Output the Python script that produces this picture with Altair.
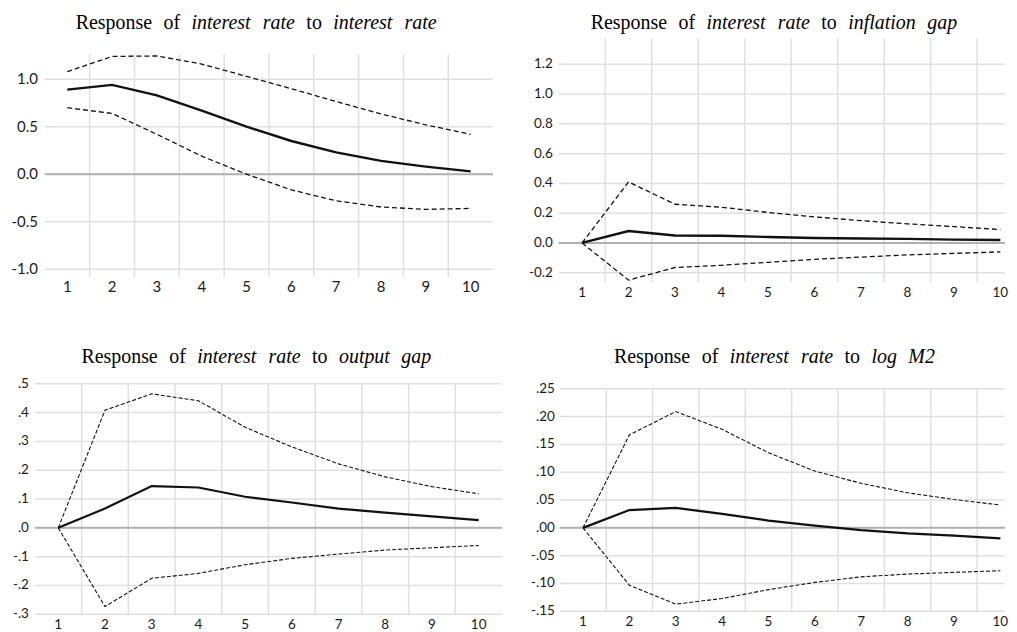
import altair as alt
import pandas as pd

steps = [1, 2, 3, 4, 5, 6, 7, 8, 9, 10]

# Response of interest rate to interest rate
ir_ir_mid = [0.89, 0.94, 0.83, 0.67, 0.50, 0.35, 0.23, 0.14, 0.08, 0.03]
ir_ir_up = [1.08, 1.24, 1.245, 1.16, 1.03, 0.90, 0.765, 0.635, 0.52, 0.42]
ir_ir_lo = [0.70, 0.64, 0.42, 0.19, 0.0, -0.165, -0.28, -0.345, -0.37, -0.36]

# Response of interest rate to inflation gap
ir_inf_mid = [0.0, 0.08, 0.05, 0.048, 0.04, 0.033, 0.03, 0.027, 0.022, 0.02]
ir_inf_up = [0.0, 0.41, 0.26, 0.24, 0.205, 0.175, 0.15, 0.128, 0.11, 0.09]
ir_inf_lo = [0.0, -0.25, -0.165, -0.15, -0.13, -0.11, -0.095, -0.08, -0.07, -0.06]

# Response of interest rate to output gap
ir_out_mid = [0.0, 0.067, 0.145, 0.14, 0.108, 0.088, 0.067, 0.053, 0.04, 0.027]
ir_out_up = [0.0, 0.408, 0.465, 0.441, 0.349, 0.281, 0.222, 0.177, 0.143, 0.118]
ir_out_lo = [0.0, -0.273, -0.175, -0.158, -0.128, -0.106, -0.091, -0.077, -0.069, -0.061]

# Response of interest rate to log M2
ir_m2_mid = [0.0, 0.032, 0.036, 0.025, 0.013, 0.004, -0.004, -0.010, -0.014, -0.019]
ir_m2_up = [0.0, 0.167, 0.209, 0.177, 0.135, 0.102, 0.080, 0.063, 0.051, 0.041]
ir_m2_lo = [0.0, -0.103, -0.137, -0.127, -0.111, -0.098, -0.088, -0.083, -0.080, -0.077]

title_ir_ir = [("Response", False), ("of", False), ("interest", True), ("rate", True),
               ("to", False), ("interest", True), ("rate", True)]
title_ir_inf = [("Response", False), ("of", False), ("interest", True), ("rate", True),
                ("to", False), ("inflation", True), ("gap", True)]
title_ir_out = [("Response", False), ("of", False), ("interest", True), ("rate", True),
                ("to", False), ("output", True), ("gap", True)]
title_ir_m2 = [("Response", False), ("of", False), ("interest", True), ("rate", True),
               ("to", False), ("log", True), ("M2", True)]

ticks_ir_ir = [-1.0, -0.5, 0.0, 0.5, 1.0]
labels_ir_ir = ["-1.0", "-0.5", "0.0", "0.5", "1.0"]
ticks_ir_inf = [-0.2, 0.0, 0.2, 0.4, 0.6, 0.8, 1.0, 1.2]
labels_ir_inf = ["-0.2", "0.0", "0.2", "0.4", "0.6", "0.8", "1.0", "1.2"]
ticks_ir_out = [-0.3, -0.2, -0.1, 0.0, 0.1, 0.2, 0.3, 0.4, 0.5]
labels_ir_out = ["-.3", "-.2", "-.1", ".0", ".1", ".2", ".3", ".4", ".5"]
ticks_ir_m2 = [-0.15, -0.10, -0.05, 0.0, 0.05, 0.10, 0.15, 0.20, 0.25]
labels_ir_m2 = ["-.15", "-.10", "-.05", ".00", ".05", ".10", ".15", ".20", ".25"]

# ---- styling / layout ----
REG = {'R': 0.667, 'e': 0.444, 's': 0.389, 'p': 0.5, 'o': 0.5, 'n': 0.5, 'f': 0.333, 't': 0.278}
ITA = {'i': 0.278, 'n': 0.5, 't': 0.278, 'e': 0.444, 'r': 0.389, 's': 0.389, 'a': 0.5,
       'f': 0.278, 'l': 0.278, 'o': 0.5, 'g': 0.5, 'p': 0.5, 'u': 0.5, 'M': 0.833, '2': 0.5}
TFS = 20
GAP = 11.5
LABEL_FONT = "Lato"
LABEL_COLOR = "#1a1a1a"
GRID = "#e0e0e0"
INK = "#111111"


def title_layers(words, x0, baseline):
    layers = []
    x = x0
    for w, it in words:
        table = ITA if it else REG
        width = sum(table.get(c, 0.5) for c in w) * TFS
        layers.append(
            alt.Chart(pd.DataFrame({"t": [w]}))
            .mark_text(font="Liberation Serif", fontSize=TFS,
                       fontStyle="italic" if it else "normal",
                       align="left", baseline="alphabetic", color="black")
            .encode(text="t:N", x=alt.value(x), y=alt.value(baseline))
        )
        x += width + GAP
    return layers


def panel(mid, up, lo, ticks, labels, words, rect, xmax, ydom, title_pos,
          lsize, xlab_dy, ylab_dx, ext, dash, mw, bw):
    x0, x1, y0, y1 = rect
    xs = alt.Scale(domain=[0.5, xmax], range=[x0, x1], nice=False, zero=False)
    ys = alt.Scale(domain=ydom, range=[y1, y0], nice=False, zero=False)

    df_mid = pd.DataFrame({"step": steps, "value": mid})
    df_band = pd.DataFrame({"step": steps + steps, "value": up + lo,
                            "band": ["upper"] * len(steps) + ["lower"] * len(steps)})
    df_v = pd.DataFrame({"step": [s + 0.5 for s in steps if s + 0.5 < xmax]})
    df_h = pd.DataFrame({"value": ticks, "label": labels})
    df_x = pd.DataFrame({"step": steps, "label": [str(s) for s in steps]})

    ybottom_ext = ydom[0] - ext * (ydom[1] - ydom[0]) / (y1 - y0)

    hgrid = alt.Chart(df_h).mark_rule(color=GRID, strokeWidth=1.5).encode(
        y=alt.Y("value:Q", scale=ys, axis=None),
        x=alt.X(datum=0.5, scale=xs, axis=None),
        x2=alt.X2(datum=xmax))
    vgrid = alt.Chart(df_v).mark_rule(color=GRID, strokeWidth=1.5).encode(
        x=alt.X("step:Q", scale=xs, axis=None),
        y=alt.Y(datum=ydom[1], scale=ys, axis=None),
        y2=alt.Y2(datum=ybottom_ext))
    zero = alt.Chart(pd.DataFrame({"value": [0.0]})).mark_rule(
        color="#b0b0b0", strokeWidth=2).encode(
        y=alt.Y("value:Q", scale=ys, axis=None),
        x=alt.X(datum=0.5, scale=xs, axis=None),
        x2=alt.X2(datum=xmax))
    band = alt.Chart(df_band).mark_line(color=INK, strokeWidth=bw, strokeDash=dash).encode(
        x=alt.X("step:Q", scale=xs, axis=None),
        y=alt.Y("value:Q", scale=ys, axis=None),
        detail="band:N")
    midl = alt.Chart(df_mid).mark_line(color=INK, strokeWidth=mw).encode(
        x=alt.X("step:Q", scale=xs, axis=None),
        y=alt.Y("value:Q", scale=ys, axis=None))
    ylab = alt.Chart(df_h).mark_text(
        font=LABEL_FONT, fontSize=lsize, color=LABEL_COLOR, align="right",
        baseline="middle", dx=-ylab_dx).encode(
        text="label:N",
        y=alt.Y("value:Q", scale=ys, axis=None),
        x=alt.X(datum=0.5, scale=xs, axis=None))
    xlab = alt.Chart(df_x).mark_text(
        font=LABEL_FONT, fontSize=lsize, color=LABEL_COLOR, align="center",
        baseline="middle", dy=xlab_dy).encode(
        text="label:N",
        x=alt.X("step:Q", scale=xs, axis=None),
        y=alt.Y(datum=ydom[0], scale=ys, axis=None))
    return [hgrid, vgrid, zero, band, midl, ylab, xlab] + title_layers(words, *title_pos)


layers = []
layers += panel(ir_ir_mid, ir_ir_up, ir_ir_lo, ticks_ir_ir, labels_ir_ir, title_ir_ir,
                (37, 487, 45, 261), 10.5, [-1.0, 1.265], (68, 20.3),
                15, 18, 7, 8, [5, 3], 2.4, 1.3)
layers += panel(ir_inf_mid, ir_inf_up, ir_inf_lo, ticks_ir_inf, labels_ir_inf, title_ir_inf,
                (553, 1001, 29, 272), 10.1, [-0.25, 1.376], (585, 20.3),
                13.5, 12.7, 6, 2, [5, 3], 2.4, 1.3)
layers += panel(ir_out_mid, ir_out_up, ir_out_lo, ticks_ir_out, labels_ir_out, title_ir_out,
                (27, 496, 376, 607.5), 10.5, [-0.3, 0.5], (73.7, 354.7),
                13.5, 10.5, 6, 1, [4, 2], 2.2, 1.1)
layers += panel(ir_m2_mid, ir_m2_up, ir_m2_lo, ticks_ir_m2, labels_ir_m2, title_ir_m2,
                (554, 1001, 381, 604.5), 10.1, [-0.15, 0.25], (608.3, 354.7),
                13.5, 10.8, 5, 1, [4, 2], 2.2, 1.1)

chart = alt.layer(*layers).resolve_scale(x="independent", y="independent").properties(
    width=1001, height=616, padding=0, background="white").configure_view(strokeWidth=0)

chart.save("out.html", embed_options={"renderer": "svg", "actions": False})
